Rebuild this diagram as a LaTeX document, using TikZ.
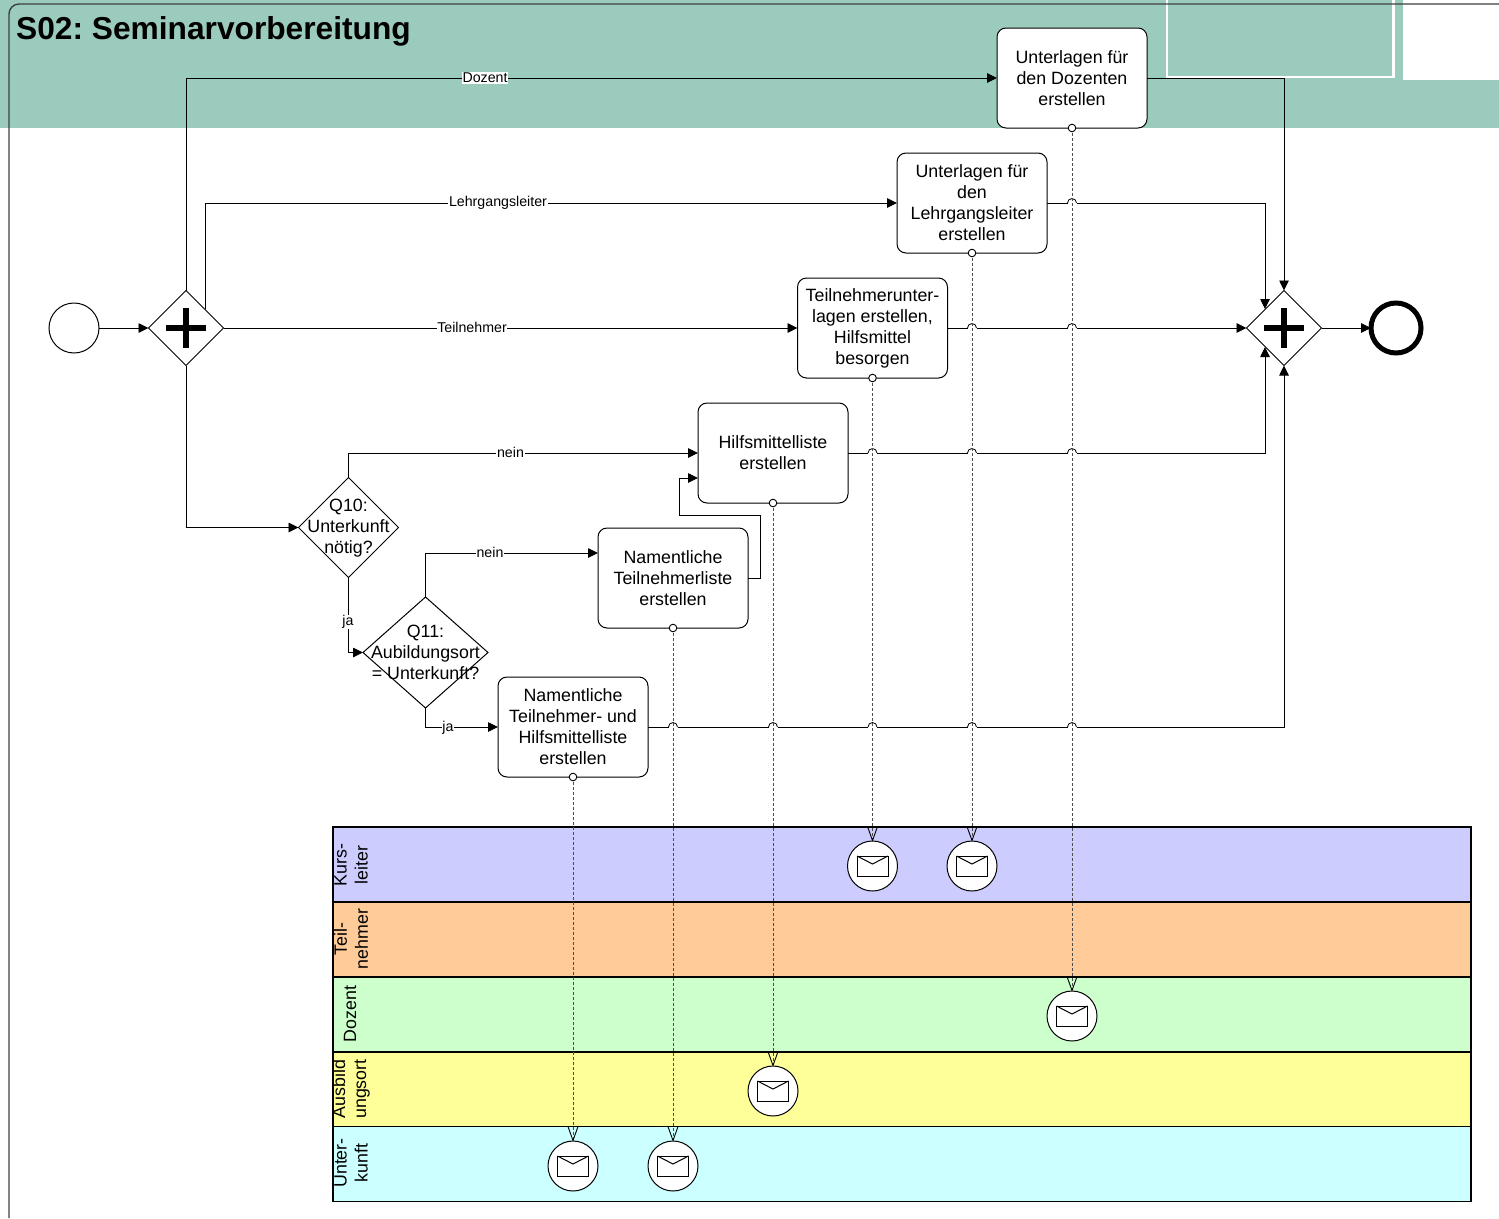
\documentclass[tikz,border=0pt]{standalone}
\usepackage{fontspec}
\setmainfont{Liberation Sans}
\usetikzlibrary{arrows.meta,shapes.geometric}
\definecolor{band}{HTML}{9BCBBD}
\definecolor{frameline}{HTML}{404040}
\frenchspacing
\tikzset{
  flow/.style={draw=black,line width=0.9pt,-{Triangle[length=10pt,width=9.5pt]}},
  assoc/.style={draw=black!70,line width=1pt,dash pattern=on 3.2pt off 1.8pt},
  assocend/.style={assoc,-{Straight Barb[length=14pt,width=10pt,line width=0.9pt,black,round=false]}},
  taskbox/.style={draw=black,fill=white,line width=1pt,rounded corners=9pt,minimum width=150pt,minimum height=100pt,inner sep=0pt,outer sep=0pt,align=center,font=\fontsize{17.8}{21}\selectfont},
  gatebox/.style={diamond,draw=black,fill=white,line width=1pt,minimum width=75pt,minimum height=75pt,inner sep=0pt,outer sep=0pt},
  decbox/.style={diamond,draw=black,fill=white,line width=1pt,inner sep=0pt,outer sep=0pt},
  dectext/.style={align=center,font=\fontsize{17.8}{21}\selectfont,inner sep=0pt},
  edgelabel/.style={fill=white,inner sep=0.6pt,font=\fontsize{14.2}{15}\selectfont},
  lanebox/.style={draw=black,line width=1.4pt,minimum width=1138pt,minimum height=75pt,inner sep=0pt,outer sep=0pt},
  lanelabel/.style={rotate=90,align=center,font=\fontsize{17.8}{21}\selectfont,inner sep=0pt},
  msgbox/.style={circle,draw=black,fill=white,line width=1pt,minimum size=50pt,inner sep=0pt,outer sep=0pt},
  eventbox/.style={circle,draw=black,fill=white,inner sep=0pt,outer sep=0pt},
}
% line jump over a dashed association
\newcommand{\linehop}[2]{%
  \fill[white] ([shift={(-4.5pt,-1pt)}]#1 |- #2) rectangle ([shift={(4.5pt,1pt)}]#1 |- #2);
  \draw[black,line width=0.8pt] ([xshift=-4.5pt]#1 |- #2) arc[start angle=180,end angle=0,radius=4.5pt];}
\newcommand{\mailglyph}[1]{%
  \draw[black,line width=1pt] ([shift={(-15.5pt,-10pt)}]#1) rectangle ([shift={(15.5pt,10pt)}]#1);
  \draw[black,line width=1pt] ([shift={(-15.5pt,10pt)}]#1) -- ([shift={(0pt,2pt)}]#1) -- ([shift={(15.5pt,10pt)}]#1);}
\newcommand{\gateplus}[1]{%
  \draw[black,line width=6pt] ([xshift=-20pt]#1) -- ([xshift=20pt]#1);
  \draw[black,line width=6pt] ([yshift=-20pt]#1) -- ([yshift=20pt]#1);}
\newcommand{\portdot}[1]{\draw[black,fill=white,line width=0.9pt] (#1) circle[radius=3.8pt];}
\begin{document}
\begin{tikzpicture}[x=1pt,y=-1pt]
\useasboundingbox (0,0) rectangle (1499,1218);
% background band
\fill[band] (0,0) rectangle (1499,127.5);
\fill[white] (1403,0) rectangle (1499,80);
\draw[white,line width=2.5pt] (1167,0) -- (1167,77) -- (1393.5,77) -- (1393.5,0);
\draw[frameline,line width=1.4pt] (9,1218) -- (9,14) arc[start angle=180,end angle=90,radius=10pt] -- (1499,4);
\node[font=\fontsize{31.7}{36}\bfseries,anchor=west,inner sep=0pt] (title) at (16,31) {S02: Seminarvorbereitung};
% lanes
\node[lanebox,fill={rgb,255:red,204;green,204;blue,255}] (l1) at (902,864.5) {};
\node[lanebox,fill={rgb,255:red,255;green,204;blue,153}] (l2) at (902,939.5) {};
\node[lanebox,fill={rgb,255:red,204;green,255;blue,204}] (l3) at (902,1014.5) {};
\node[lanebox,fill={rgb,255:red,255;green,255;blue,153}] (l4) at (902,1089.5) {};
\node[lanebox,fill={rgb,255:red,204;green,255;blue,255}] (l5) at (902,1164) {};
\node[lanelabel] (l1t) at (351,865) {Kurs-\\leiter};
\node[lanelabel] (l2t) at (351,939) {Teil-\\nehmer};
\node[lanelabel] (l3t) at (350,1014) {Dozent};
\node[lanelabel] (l4t) at (351,1089) {Ausbild\\ungsort};
\node[lanelabel] (l5t) at (351,1163) {Unter-\\kunft};
% events and gateways
\node[eventbox,line width=1pt,minimum size=50pt] (start) at (74,328) {};
\node[gatebox] (g1) at (186,328) {};
\node[gatebox] (g2) at (1284,328) {};
\node[eventbox,line width=5pt,minimum size=50pt] (end) at (1396,328) {};
\node[decbox,minimum width=100pt,minimum height=100pt] (q10) at (348.5,527.5) {};
\node[decbox,minimum width=125pt,minimum height=111pt] (q11) at (425.5,652.5) {};
% tasks
\node[taskbox] (t1) at (1072,78) {Unterlagen für\\den Dozenten\\erstellen};
\node[taskbox] (t2) at (972,203) {Unterlagen für\\den\\Lehrgangsleiter\\erstellen};
\node[taskbox] (t3) at (872.5,328) {Teilnehmerunter-\\lagen erstellen,\\Hilfsmittel\\besorgen};
\node[taskbox] (t4) at (773,453) {Hilfsmittelliste\\erstellen};
\node[taskbox] (t5) at (673,578) {Namentliche\\Teilnehmerliste\\erstellen};
\node[taskbox] (t6) at (573,727) {Namentliche\\Teilnehmer- und\\Hilfsmittelliste\\erstellen};
% message events
\node[msgbox] (m3) at (872.5,866) {};
\node[msgbox] (m2) at (972,866) {};
\node[msgbox] (m1) at (1072,1016) {};
\node[msgbox] (m4) at (773,1091) {};
\node[msgbox] (m6) at (573,1166) {};
\node[msgbox] (m5) at (673,1166) {};
% helper coordinates
\coordinate (g1ne) at (205,309);
\coordinate (g2nw) at (1265,309);
\coordinate (g2sw) at (1265,347);
\coordinate (t5a) at (760,515);
\coordinate (t5b) at (679,478);
\coordinate (t4in) at (698,478);
\coordinate (t5in) at (598,553);
% sequence flows
\draw[flow] (start.east) -- (g1.west);
\draw[flow] (g2.east) -- (end.west);
\draw[flow] (g1.north) |- (t1.west);
\node[edgelabel] (la) at (485,78) {Dozent};
\draw[flow] (g1ne) |- (t2.west);
\node[edgelabel] (lb) at (498,203) {Lehrgangsleiter};
\draw[flow] (g1.east) -- (t3.west);
\node[edgelabel] (lc) at (472,327.5) {Teilnehmer};
\draw[flow] (g1.south) |- (q10.west);
\draw[flow] (q10.north) |- (t4.west);
\node[edgelabel] (ld) at (510.5,452) {nein};
\draw[flow] (q10.south) |- (q11.west);
\node[edgelabel] (le) at (348,622) {ja};
\draw[flow] (q11.north) |- (t5in);
\node[edgelabel] (lf) at (490,552) {nein};
\draw[flow] (q11.south) |- (t6.west);
\node[edgelabel] (lg) at (448,727.5) {ja};
\draw[flow] (t5.east) -| (t5a) -| (t5b) -- (t4in);
\draw[flow] (t1.east) -| (g2.north);
\draw[flow] (t2.east) -| (g2nw);
\draw[flow] (t3.east) -- (g2.west);
\draw[flow] (t4.east) -| (g2sw);
\draw[flow] (t6.east) -| (g2.south);
% line jumps
\linehop{t1.south}{t2.east}
\linehop{t2.south}{t3.east}
\linehop{t1.south}{t3.east}
\linehop{t3.south}{t4.east}
\linehop{t2.south}{t4.east}
\linehop{t1.south}{t4.east}
\linehop{t5.south}{t6.east}
\linehop{t4.south}{t6.east}
\linehop{t3.south}{t6.east}
\linehop{t2.south}{t6.east}
\linehop{t1.south}{t6.east}
% associations
\draw[assocend] (t1.south) -- (m1.north);
\draw[assocend] (t2.south) -- (m2.north);
\draw[assocend] (t3.south) -- (m3.north);
\draw[assocend] (t4.south) -- (m4.north);
\draw[assocend] (t5.south) -- (m5.north);
\draw[assocend] (t6.south) -- (m6.north);
\portdot{t1.south}\portdot{t2.south}\portdot{t3.south}\portdot{t4.south}\portdot{t5.south}\portdot{t6.south}
% glyphs
\gateplus{g1.center}\gateplus{g2.center}
\mailglyph{m1.center}\mailglyph{m2.center}\mailglyph{m3.center}\mailglyph{m4.center}\mailglyph{m5.center}\mailglyph{m6.center}
% decision texts
\node[dectext] (q10t) at (348.5,528.5) {Q10:\\Unterkunft\\nötig?};
\node[dectext] (q11t) at (425.5,652.2) {Q11:\\Aubildungsort\\= Unterkunft?};
\end{tikzpicture}
\end{document}
